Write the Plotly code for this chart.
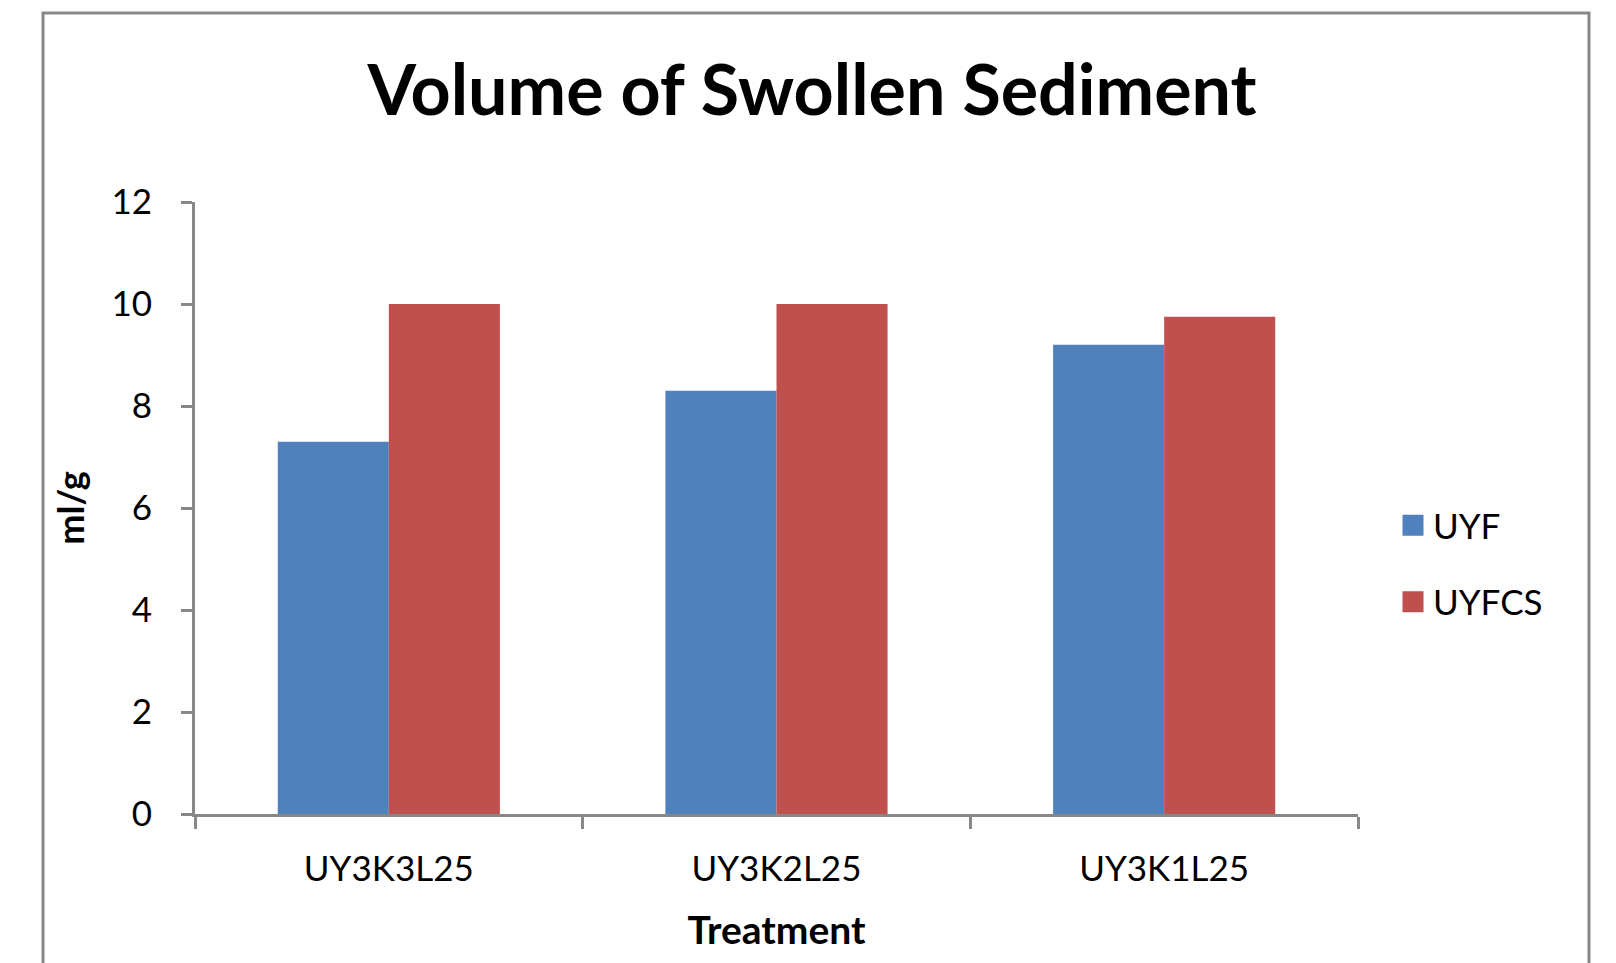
import plotly.graph_objects as go

categories = ["UY3K3L25", "UY3K2L25", "UY3K1L25"]
series_names = ["UYF", "UYFCS"]
uyf_values = [7.3, 8.3, 9.2]
uyfcs_values = [10.0, 10.0, 9.75]
colors = ["#4F81BD", "#C0504D"]
y_ticks = [0, 2, 4, 6, 8, 10, 12]

W, H = 1616, 963
L, R, T, B = 187, 266, 194, 157
pw, ph = W - L - R, H - T - B

def px_x(p):
    return (p - L) / pw

def px_y(p):
    return (H - B - p) / ph

FONT = "Lato"
GRAY = "#878787"

fig = go.Figure()
for name, vals, col in zip(series_names, [uyf_values, uyfcs_values], colors):
    fig.add_trace(go.Bar(x=categories, y=vals, name=name, marker=dict(color=col, line=dict(width=0)),
                         showlegend=False))
for i, (name, col) in enumerate(zip(series_names, colors)):
    fig.add_trace(go.Scatter(x=[None], y=[None], mode="markers", name=name, legendgroup=name,
                             marker=dict(symbol="square", size=16, color=col, line=dict(color=col, width=5))))

fig.update_layout(
    width=W, height=H,
    margin=dict(l=L, r=R, t=T, b=B, autoexpand=False),
    paper_bgcolor="white", plot_bgcolor="white",
    barmode="group", bargap=0.427, bargroupgap=0,
    font=dict(family=FONT, color="black"),
    title=dict(text="<b>Volume of Swollen Sediment</b>", font=dict(family=FONT, size=70, color="black"),
               xref="paper", x=px_x(804), xanchor="center", yref="container", y=1 - 82 / H, yanchor="middle"),
    xaxis=dict(type="category", showline=True, linecolor=GRAY, linewidth=3, ticks="outside",
               tickson="boundaries", ticklen=12, tickwidth=3, tickcolor=GRAY,
               tickfont=dict(family=FONT, size=35, color="black"), ticklabelstandoff=22,
               showgrid=False, zeroline=False,
               title=dict(text="<b>Treatment</b>", font=dict(family=FONT, size=39, color="black"), standoff=30)),
    yaxis=dict(range=[0, 12], tickvals=y_ticks, showline=True, linecolor=GRAY, linewidth=3,
               ticks="outside", ticklen=11, tickwidth=3, tickcolor=GRAY,
               tickfont=dict(family=FONT, size=35, color="black"), ticklabelstandoff=22,
               showgrid=False, zeroline=False,
               title=dict(text="<b>ml/g</b>", font=dict(family=FONT, size=36, color="black"), standoff=16)),
    legend=dict(x=px_x(1385), xanchor="left", y=px_y(488), yanchor="top",
                font=dict(family=FONT, size=35, color="black"), traceorder="grouped",
                tracegroupgap=28, bgcolor="rgba(0,0,0,0)", itemwidth=30),
    shapes=[dict(type="rect", xref="paper", yref="paper", x0=px_x(35), x1=px_x(1581),
                 y0=px_y(990), y1=px_y(5), line=dict(color=GRAY, width=3), fillcolor="rgba(0,0,0,0)", layer="below")],
)

fig.write_html("out.html")
